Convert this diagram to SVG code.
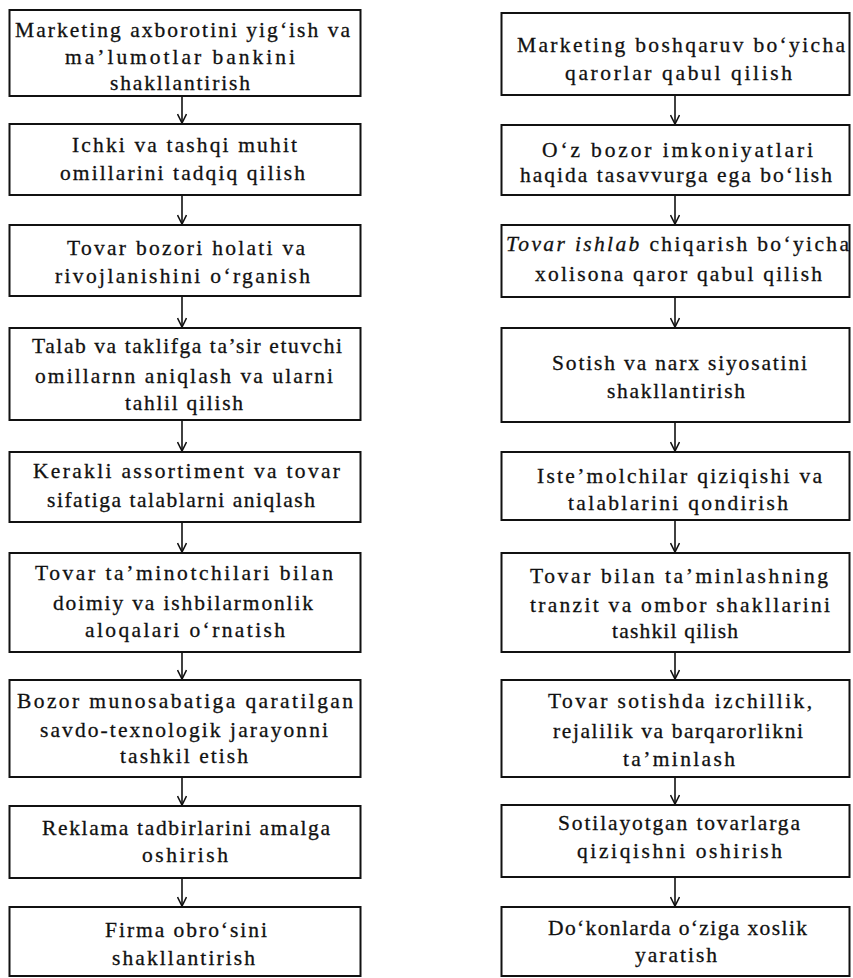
<svg xmlns="http://www.w3.org/2000/svg" width="853" height="978" viewBox="0 0 853 978">
<style>
.box{fill:#fff;stroke:#111;stroke-width:2}
.t{font-family:"Liberation Serif","Times New Roman",serif;font-size:21.5px;fill:#111;stroke:#111;stroke-width:0.3;text-anchor:middle}
.c{stroke:#111;stroke-width:1.6;fill:none}
</style>
<defs>
<marker id="ah" viewBox="0 0 12 10" refX="11" refY="5" markerWidth="12" markerHeight="10" markerUnits="userSpaceOnUse" orient="auto">
<path d="M2,0.5 L11,5 L2,9.5" fill="none" stroke="#111" stroke-width="1.6"/>
</marker>
</defs>
<rect width="853" height="978" fill="#fff"/>
<g id="connectors">
<line class="c" x1="182" y1="97" x2="182" y2="123" marker-end="url(#ah)"/>
<line class="c" x1="182" y1="196" x2="182" y2="224" marker-end="url(#ah)"/>
<line class="c" x1="182" y1="297" x2="182" y2="327" marker-end="url(#ah)"/>
<line class="c" x1="182" y1="421" x2="182" y2="451" marker-end="url(#ah)"/>
<line class="c" x1="182" y1="523" x2="182" y2="552" marker-end="url(#ah)"/>
<line class="c" x1="182" y1="653" x2="182" y2="679" marker-end="url(#ah)"/>
<line class="c" x1="182" y1="778" x2="182" y2="805" marker-end="url(#ah)"/>
<line class="c" x1="182" y1="879" x2="182" y2="906" marker-end="url(#ah)"/>
<line class="c" x1="675" y1="96" x2="675" y2="124" marker-end="url(#ah)"/>
<line class="c" x1="675" y1="196" x2="675" y2="224" marker-end="url(#ah)"/>
<line class="c" x1="675" y1="298" x2="675" y2="327" marker-end="url(#ah)"/>
<line class="c" x1="675" y1="423" x2="675" y2="451" marker-end="url(#ah)"/>
<line class="c" x1="675" y1="521" x2="675" y2="552" marker-end="url(#ah)"/>
<line class="c" x1="675" y1="653" x2="675" y2="679" marker-end="url(#ah)"/>
<line class="c" x1="675" y1="778" x2="675" y2="804" marker-end="url(#ah)"/>
<line class="c" x1="675" y1="878" x2="675" y2="906" marker-end="url(#ah)"/>
</g>
<g id="L1"><rect class="box" x="9.5" y="10" width="351" height="86"/>
<text class="t" x="182.5" y="37" textLength="335" lengthAdjust="spacing">Marketing axborotini yig‘ish va</text>
<text class="t" x="180" y="64" textLength="230" lengthAdjust="spacing">ma’lumotlar bankini</text>
<text class="t" x="180" y="90" textLength="140" lengthAdjust="spacing">shakllantirish</text></g>
<g id="L2"><rect class="box" x="9.5" y="124" width="351" height="71"/>
<text class="t" x="184.5" y="152" textLength="225" lengthAdjust="spacing">Ichki va tashqi muhit</text>
<text class="t" x="182.5" y="180" textLength="245" lengthAdjust="spacing">omillarini tadqiq qilish</text></g>
<g id="L3"><rect class="box" x="9.5" y="225" width="351" height="71"/>
<text class="t" x="186" y="255" textLength="238" lengthAdjust="spacing">Tovar bozori holati va</text>
<text class="t" x="182.5" y="283" textLength="255" lengthAdjust="spacing">rivojlanishini o‘rganish</text></g>
<g id="L4"><rect class="box" x="9.5" y="328" width="351" height="92"/>
<text class="t" x="187" y="353" textLength="310" lengthAdjust="spacing">Talab va taklifga ta’sir etuvchi</text>
<text class="t" x="184" y="383" textLength="298" lengthAdjust="spacing">omillarnn aniqlash va ularni</text>
<text class="t" x="184" y="410" textLength="118" lengthAdjust="spacing">tahlil qilish</text></g>
<g id="L5"><rect class="box" x="9.5" y="452" width="351" height="70"/>
<text class="t" x="186.5" y="478" textLength="307" lengthAdjust="spacing">Kerakli assortiment va tovar</text>
<text class="t" x="181" y="507" textLength="268" lengthAdjust="spacing">sifatiga talablarni aniqlash</text></g>
<g id="L6"><rect class="box" x="9.5" y="553" width="351" height="99"/>
<text class="t" x="184" y="580" textLength="298" lengthAdjust="spacing">Tovar ta’minotchilari bilan</text>
<text class="t" x="183" y="610" textLength="260" lengthAdjust="spacing">doimiy va ishbilarmonlik</text>
<text class="t" x="185" y="637" textLength="200" lengthAdjust="spacing">aloqalari o‘rnatish</text></g>
<g id="L7"><rect class="box" x="9.5" y="680" width="351" height="97"/>
<text class="t" x="185" y="708" textLength="336" lengthAdjust="spacing">Bozor munosabatiga qaratilgan</text>
<text class="t" x="184" y="737" textLength="288" lengthAdjust="spacing">savdo-texnologik jarayonni</text>
<text class="t" x="184" y="763" textLength="128" lengthAdjust="spacing">tashkil etish</text></g>
<g id="L8"><rect class="box" x="9.5" y="806" width="351" height="72"/>
<text class="t" x="186" y="835" textLength="288" lengthAdjust="spacing">Reklama tadbirlarini amalga</text>
<text class="t" x="185" y="862" textLength="86" lengthAdjust="spacing">oshirish</text></g>
<g id="L9"><rect class="box" x="9.5" y="907" width="351" height="69"/>
<text class="t" x="186" y="937" textLength="162" lengthAdjust="spacing">Firma obro‘sini</text>
<text class="t" x="183.5" y="965" textLength="143" lengthAdjust="spacing">shakllantirish</text></g>
<g id="R1"><rect class="box" x="501.5" y="13" width="348" height="82"/>
<text class="t" x="681" y="52" textLength="328" lengthAdjust="spacing">Marketing boshqaruv bo‘yicha</text>
<text class="t" x="678.5" y="80" textLength="227" lengthAdjust="spacing">qarorlar qabul qilish</text></g>
<g id="R2"><rect class="box" x="501.5" y="125" width="348" height="70"/>
<text class="t" x="677.5" y="157" textLength="271" lengthAdjust="spacing">O‘z bozor imkoniyatlari</text>
<text class="t" x="676" y="182" textLength="312" lengthAdjust="spacing">haqida tasavvurga ega bo‘lish</text></g>
<g id="R3"><rect class="box" x="501.5" y="225" width="348" height="72"/>
<text class="t" x="677.5" y="251" textLength="343" lengthAdjust="spacing"><tspan font-style="italic">Tovar ishlab</tspan> chiqarish bo‘yicha</text>
<text class="t" x="678.5" y="281" textLength="287" lengthAdjust="spacing">xolisona qaror qabul qilish</text></g>
<g id="R4"><rect class="box" x="501.5" y="328" width="348" height="94"/>
<text class="t" x="679.5" y="370" textLength="255" lengthAdjust="spacing">Sotish va narx siyosatini</text>
<text class="t" x="676" y="398" textLength="138" lengthAdjust="spacing">shakllantirish</text></g>
<g id="R5"><rect class="box" x="501.5" y="452" width="348" height="68"/>
<text class="t" x="679.5" y="483" textLength="285" lengthAdjust="spacing">Iste’molchilar qiziqishi va</text>
<text class="t" x="678" y="510" textLength="220" lengthAdjust="spacing">talablarini qondirish</text></g>
<g id="R6"><rect class="box" x="501.5" y="553" width="348" height="99"/>
<text class="t" x="679" y="583" textLength="298" lengthAdjust="spacing">Tovar bilan ta’minlashning</text>
<text class="t" x="680" y="612" textLength="300" lengthAdjust="spacing">tranzit va ombor shakllarini</text>
<text class="t" x="675" y="638" textLength="126" lengthAdjust="spacing">tashkil qilish</text></g>
<g id="R7"><rect class="box" x="501.5" y="680" width="348" height="97"/>
<text class="t" x="680" y="708" textLength="264" lengthAdjust="spacing">Tovar sotishda izchillik,</text>
<text class="t" x="678" y="738" textLength="250" lengthAdjust="spacing">rejalilik va barqarorlikni</text>
<text class="t" x="679" y="766" textLength="112" lengthAdjust="spacing">ta’minlash</text></g>
<g id="R8"><rect class="box" x="501.5" y="805" width="348" height="72"/>
<text class="t" x="679" y="830" textLength="242" lengthAdjust="spacing">Sotilayotgan tovarlarga</text>
<text class="t" x="679.5" y="858" textLength="205" lengthAdjust="spacing">qiziqishni oshirish</text></g>
<g id="R9"><rect class="box" x="501.5" y="907" width="348" height="69"/>
<text class="t" x="677.5" y="935" textLength="259" lengthAdjust="spacing">Do‘konlarda o‘ziga xoslik</text>
<text class="t" x="676" y="962" textLength="82" lengthAdjust="spacing">yaratish</text></g>
</svg>
